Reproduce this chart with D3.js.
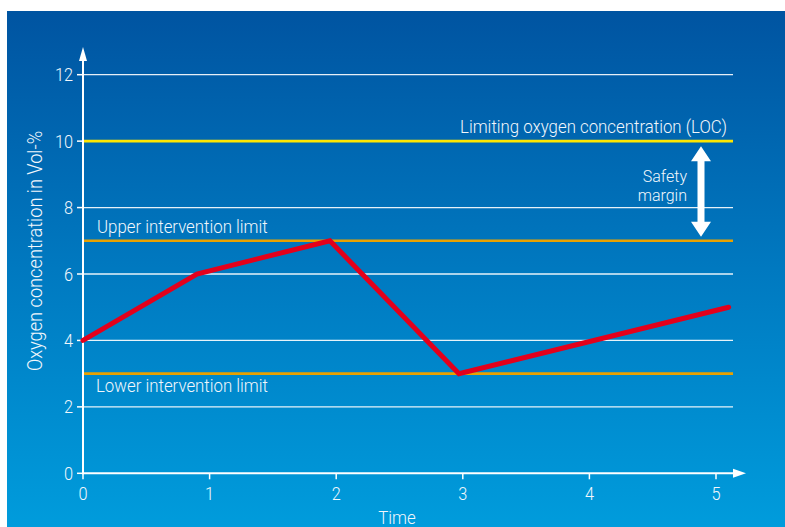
<!DOCTYPE html>
<html>
<head>
<meta charset="utf-8">
<script src="https://cdn.jsdelivr.net/npm/d3@7"></script>
<style>
  html, body { margin: 0; padding: 0; background: #ffffff; }
  svg { display: block; }
  text { font-family: Roboto, "Liberation Sans", sans-serif; font-weight: 300; fill: #f2f7fc; }
</style>
</head>
<body>
<svg id="chart" width="785" height="527"></svg>
<script>
// Oxygen concentration over time
const times = [0, 0.9, 1.95, 2.97, 5.1];
const oxygen = [4, 6, 7, 3, 5];

// Reference limits
const limitValues = [10, 7, 3];
const limitLabels = ["Limiting oxygen concentration (LOC)", "Upper intervention limit", "Lower intervention limit"];
const limitColors = ["#ffe600", "#e8a100", "#e8a100"];

// Axis ticks
const xTicks = [0, 1, 2, 3, 4, 5];
const yTicks = [0, 2, 4, 6, 8, 10, 12];
const gridValues = [2, 4, 6, 8, 12];

const xTitle = "Time";
const yTitle = "Oxygen concentration in Vol-%";
const marginLabel = ["Safety", "margin"];

const svg = d3.select("#chart");
const W = 785, H = 527;
const squeeze = 0.91;      // condensed lettering for labels
const digitSqueeze = 0.86; // condensed lettering for tick numbers

// Background panel with vertical gradient
const defs = svg.append("defs");
const grad = defs.append("linearGradient").attr("id", "bg").attr("x1", 0).attr("y1", 0).attr("x2", 0).attr("y2", 1);
grad.append("stop").attr("offset", "0%").attr("stop-color", "#0054a1");
grad.append("stop").attr("offset", "50%").attr("stop-color", "#0079c0");
grad.append("stop").attr("offset", "100%").attr("stop-color", "#009cdc");
svg.append("rect").attr("x", 7).attr("y", 11).attr("width", W - 7).attr("height", H - 11).attr("fill", "url(#bg)");

const x = d3.scaleLinear().domain([0, 5]).range([83, 716]);
const y = d3.scaleLinear().domain([0, 12]).range([473.3, 74.7]);
const x0 = x(0), y0 = y(0);
const plotRight = 733;

// Helper: condensed text placed at (px, py)
function label(g, txt, px, py, anchor, size, sq = squeeze) {
  return g.append("text")
    .attr("transform", `translate(${px},${py}) scale(${sq},1)`)
    .attr("text-anchor", anchor)
    .style("font-size", size + "px")
    .text(txt);
}

// Gridlines
svg.append("g").selectAll("line").data(gridValues).join("line")
  .attr("x1", x0).attr("x2", plotRight)
  .attr("y1", d => y(d)).attr("y2", d => y(d))
  .attr("stroke", "#ffffff").attr("stroke-opacity", 0.9).attr("stroke-width", 1.3);

// Limit lines
svg.append("g").selectAll("line").data(limitValues).join("line")
  .attr("x1", x0).attr("x2", plotRight)
  .attr("y1", d => y(d)).attr("y2", d => y(d))
  .attr("stroke", (d, i) => limitColors[i]).attr("stroke-width", 2.6);

// Limit labels
const lg = svg.append("g");
label(lg, limitLabels[0], 727, y(10) - 8, "end", 18.5);
label(lg, limitLabels[1], 97, y(7) - 7.5, "start", 18.5);
label(lg, limitLabels[2], 96, y(3) + 18, "start", 18.5);

// Axes
const axisG = svg.append("g").attr("stroke", "#ffffff").attr("fill", "#ffffff");
axisG.append("line").attr("x1", x0).attr("x2", x0).attr("y1", y0 + 1).attr("y2", 58).attr("stroke-width", 2);
axisG.append("path").attr("d", `M${x0},47 L${x0 - 4},61 L${x0 + 4},61 Z`).attr("stroke", "none");
axisG.append("line").attr("x1", x0 - 1).attr("x2", 736).attr("y1", y0).attr("y2", y0).attr("stroke-width", 2);
axisG.append("path").attr("d", `M746,${y0} L733,${y0 - 4.5} L733,${y0 + 4.5} Z`).attr("stroke", "none");

// Tick marks
axisG.selectAll(".yt").data(yTicks).join("line").attr("class", "yt")
  .attr("x1", x0 - 6).attr("x2", x0).attr("y1", d => y(d)).attr("y2", d => y(d)).attr("stroke-width", 1.5);
axisG.selectAll(".xt").data(xTicks).join("line").attr("class", "xt")
  .attr("x1", d => x(d)).attr("x2", d => x(d)).attr("y1", y0).attr("y2", y0 + 6).attr("stroke-width", 1.5);

// Tick labels
const tg = svg.append("g");
yTicks.forEach(v => label(tg, String(v), 73, y(v) + 6.5, "end", 19, digitSqueeze));
xTicks.forEach(v => label(tg, String(v), x(v), 499.5, "middle", 19, digitSqueeze));

// Axis titles
label(svg.append("g"), xTitle, 397, 524, "middle", 18.5);
svg.append("g").attr("transform", `translate(42,251) rotate(-90)`)
  .append("text").attr("transform", `scale(${squeeze},1)`)
  .attr("text-anchor", "middle").style("font-size", "20px").text(yTitle);

// Oxygen concentration curve
const line = d3.line().x((d, i) => x(times[i])).y(d => y(d));
svg.append("path").datum(oxygen)
  .attr("d", line)
  .attr("fill", "none").attr("stroke", "#e3001b").attr("stroke-width", 5)
  .attr("stroke-linejoin", "miter").attr("stroke-linecap", "round");

// Safety margin double arrow between LOC and upper limit
const ax = 701, aTop = y(10) + 5, aBot = y(7) - 4, head = 15, hw = 10, sw = 3.5;
svg.append("path")
  .attr("d", `M${ax},${aTop} L${ax + hw},${aTop + head} L${ax + sw},${aTop + head} L${ax + sw},${aBot - head} L${ax + hw},${aBot - head} L${ax},${aBot} L${ax - hw},${aBot - head} L${ax - sw},${aBot - head} L${ax - sw},${aTop + head} L${ax - hw},${aTop + head} Z`)
  .attr("fill", "#ffffff");

// Two-line margin caption
const mg = svg.append("g");
label(mg, marginLabel[0], 687, 181.5, "end", 16, 1);
label(mg, marginLabel[1], 687, 200.5, "end", 16, 1);
</script>
</body>
</html>
